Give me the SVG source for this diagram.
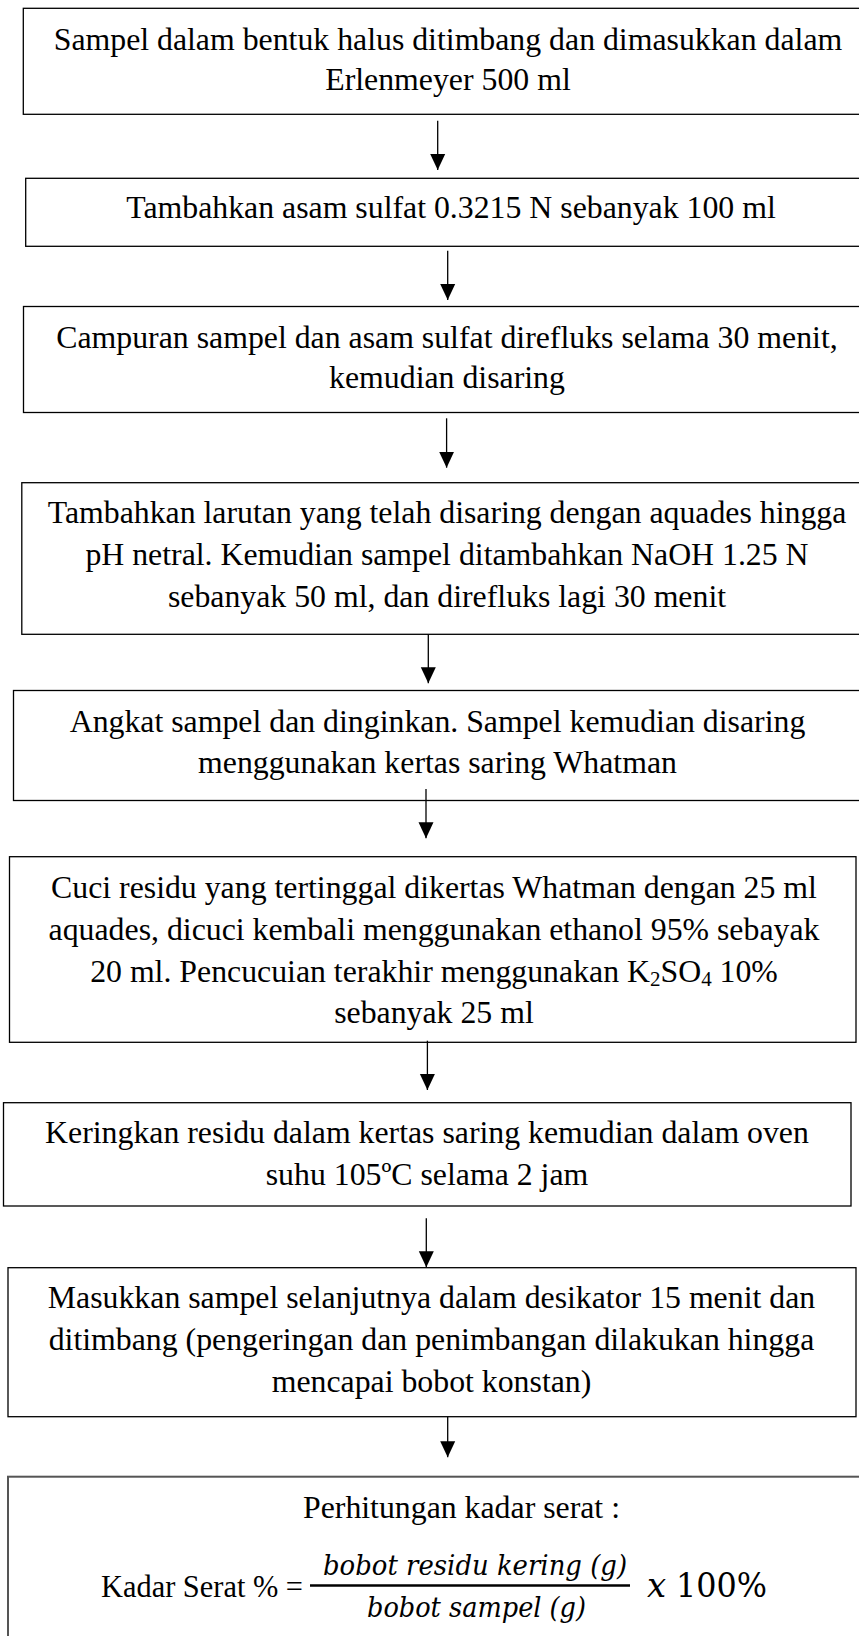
<svg xmlns="http://www.w3.org/2000/svg" width="859" height="1636" viewBox="0 0 859 1636">
<defs>
<marker id="ah" markerUnits="userSpaceOnUse" markerWidth="16" markerHeight="16" refX="16" refY="7.5" orient="auto" viewBox="0 0 16 15">
<path d="M0,0 L16,7.5 L0,15 Z" fill="#000"/>
</marker>
<style>
.box{fill:#fff;stroke:#000;stroke-width:1.3}
.box9{fill:#fff;stroke:#555;stroke-width:2}
.t{font-family:"Liberation Serif","Times New Roman",serif;font-size:31.8px;fill:#000;text-anchor:middle}
.m{font-family:"DejaVu Serif",serif;font-style:italic;fill:#000}
.c{stroke:#000;stroke-width:1.3;fill:none;marker-end:url(#ah)}
</style>
</defs>
<rect width="859" height="1636" fill="#fff"/>
<g id="n1"><rect class="box" x="23.3" y="8.3" width="849.4" height="106"/>
<text class="t" x="448" y="49.5">Sampel dalam bentuk halus ditimbang dan dimasukkan dalam</text>
<text class="t" x="448" y="90">Erlenmeyer 500 ml</text></g>
<g id="n2"><rect class="box" x="25.7" y="178.3" width="850.6" height="68"/>
<text class="t" x="451" y="218">Tambahkan asam sulfat 0.3215 N sebanyak 100 ml</text></g>
<g id="n3"><rect class="box" x="23.5" y="306.5" width="847" height="106"/>
<text class="t" x="447" y="348">Campuran sampel dan asam sulfat direfluks selama 30 menit,</text>
<text class="t" x="447" y="388">kemudian disaring</text></g>
<g id="n4"><rect class="box" x="21.8" y="482.7" width="850.4" height="151.6"/>
<text class="t" x="447" y="523">Tambahkan larutan yang telah disaring dengan aquades hingga</text>
<text class="t" x="447" y="565">pH netral. Kemudian sampel ditambahkan NaOH 1.25 N</text>
<text class="t" x="447" y="607">sebanyak 50 ml, dan direfluks lagi 30 menit</text></g>
<g id="n5"><rect class="box" x="13.5" y="690.5" width="848" height="110"/>
<text class="t" x="437.5" y="731.5">Angkat sampel dan dinginkan. Sampel kemudian disaring</text>
<text class="t" x="437.5" y="773.3">menggunakan kertas saring Whatman</text></g>
<g id="n6"><rect class="box" x="9.5" y="856.7" width="846.5" height="185.6"/>
<text class="t" x="434" y="898">Cuci residu yang tertinggal dikertas Whatman dengan 25 ml</text>
<text class="t" x="434" y="939.5">aquades, dicuci kembali menggunakan ethanol 95% sebayak</text>
<text class="t" x="434" y="981.5">20 ml. Pencucuian terakhir menggunakan K<tspan font-size="21" baseline-shift="-4">2</tspan>SO<tspan font-size="21" baseline-shift="-4">4</tspan> 10%</text>
<text class="t" x="434" y="1023">sebanyak 25 ml</text></g>
<g id="n7"><rect class="box" x="3.5" y="1102.7" width="847.5" height="103.3"/>
<text class="t" x="427" y="1143.3">Keringkan residu dalam kertas saring kemudian dalam oven</text>
<text class="t" x="427" y="1185">suhu 105ºC selama 2 jam</text></g>
<g id="n8"><rect class="box" x="8" y="1267.7" width="848" height="149"/>
<text class="t" x="431.5" y="1308.3">Masukkan sampel selanjutnya dalam desikator 15 menit dan</text>
<text class="t" x="431.5" y="1350">ditimbang (pengeringan dan penimbangan dilakukan hingga</text>
<text class="t" x="431.5" y="1391.7">mencapai bobot konstan)</text></g>
<g id="n9"><rect class="box9" x="8" y="1476.7" width="900" height="200"/>
<text class="t" x="461.5" y="1518">Perhitungan kadar serat :</text>
<text class="t" x="101" y="1597" style="text-anchor:start" textLength="202" lengthAdjust="spacingAndGlyphs">Kadar Serat % =</text>
<text class="m" x="323" y="1575" font-size="27" textLength="304" lengthAdjust="spacingAndGlyphs">bobot residu kering (g)</text>
<line x1="310" y1="1585.5" x2="630" y2="1585.5" stroke="#000" stroke-width="2.3"/>
<text class="m" x="367" y="1617" font-size="27" textLength="219" lengthAdjust="spacingAndGlyphs">bobot sampel (g)</text>
<text class="m" x="647" y="1597" font-size="34">x</text>
<text x="676" y="1597" font-family="DejaVu Serif, serif" font-size="34" textLength="91" lengthAdjust="spacingAndGlyphs">100%</text></g>
<g id="connectors">
<line class="c" x1="437.7" y1="120.7" x2="437.7" y2="170"/>
<line class="c" x1="447.7" y1="250.7" x2="447.7" y2="300"/>
<line class="c" x1="446.6" y1="418.3" x2="446.6" y2="467.7"/>
<line class="c" x1="428.3" y1="634.3" x2="428.3" y2="683.3"/>
<line class="c" x1="426" y1="789" x2="426" y2="838.3"/>
<line class="c" x1="427.4" y1="1040.7" x2="427.4" y2="1090"/>
<line class="c" x1="426.3" y1="1218.3" x2="426.3" y2="1267.3"/>
<line class="c" x1="447.7" y1="1416.7" x2="447.7" y2="1457.3"/>
</g>
</svg>
